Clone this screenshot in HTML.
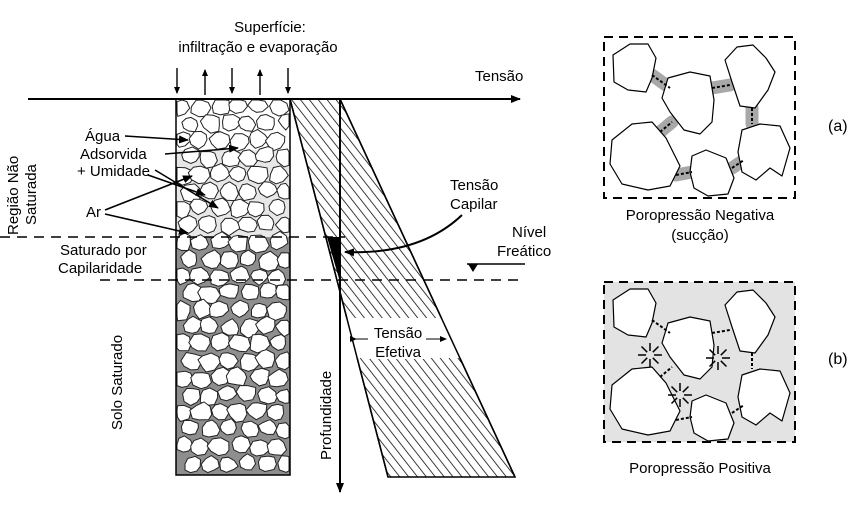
<!DOCTYPE html>
<html><head><meta charset="utf-8">
<style>
html,body{margin:0;padding:0;background:#fff;}
svg{display:block;font-family:"Liberation Sans",Arial,sans-serif;}
</style></head>
<body>
<svg id="fig" width="850" height="507" viewBox="0 0 850 507">
<defs>
<pattern id="hatch" width="7" height="7" patternUnits="userSpaceOnUse" patternTransform="rotate(-38)">
<line x1="0" y1="0" x2="0" y2="7" stroke="#000" stroke-width="1.5"/>
</pattern>
<marker id="ah" markerWidth="10" markerHeight="8" refX="9" refY="4" orient="auto" markerUnits="userSpaceOnUse">
<path d="M0,0 L10,4 L0,8 z" fill="#000"/>
</marker>
<marker id="ahs" markerWidth="7" markerHeight="6" refX="6" refY="3" orient="auto" markerUnits="userSpaceOnUse">
<path d="M0,0 L7,3 L0,6 z" fill="#000"/>
</marker>
</defs>

<text x="270" y="32" font-size="15" text-anchor="middle">Superfície:</text>
<text x="258" y="52" font-size="15" text-anchor="middle">infiltração e evaporação</text>

<g id="column">
<rect x="176" y="99" width="114" height="376" fill="#fff"/>
<rect x="176" y="237" width="114" height="238" fill="#8e8e8e"/>
<rect x="176" y="150" width="114" height="87" fill="#cfcfcf" opacity="0.5"/>
<g id="pebbles"></g>
<rect x="176" y="99" width="114" height="376" fill="none" stroke="#000" stroke-width="1.5"/>
</g>

<polygon points="290,99 340,99 515,477 388,477" fill="url(#hatch)" stroke="#000" stroke-width="1.5"/>
<polygon points="299,318 474,318 492,358 309,358" fill="#fff"/>
<line x1="290" y1="99" x2="388" y2="477" stroke="#000" stroke-width="1.5"/>
<line x1="340" y1="99" x2="515" y2="477" stroke="#000" stroke-width="1.5"/>
<polygon points="327,237 340,237 340,282" fill="#000"/>
<line x1="356" y1="339" x2="446" y2="339" stroke="#000" stroke-width="1" marker-start="url(#ahs)" marker-end="url(#ahs)"/>
<rect x="368" y="325" width="58" height="34" fill="#fff"/>
<text x="398" y="338" font-size="15" text-anchor="middle">Tensão</text>
<text x="398" y="357" font-size="15" text-anchor="middle">Efetiva</text>

<line x1="28" y1="99" x2="520" y2="99" stroke="#000" stroke-width="2" marker-end="url(#ah)"/>
<text x="475" y="81" font-size="15">Tensão</text>
<line x1="340" y1="99" x2="340" y2="492" stroke="#000" stroke-width="2" marker-end="url(#ah)"/>
<text transform="translate(331,460) rotate(-90)" font-size="15">Profundidade</text>

<line x1="0" y1="237" x2="345" y2="237" stroke="#000" stroke-width="1.6" stroke-dasharray="10,7"/>
<line x1="100" y1="280" x2="520" y2="280" stroke="#000" stroke-width="1.6" stroke-dasharray="10,7"/>

<g stroke="#000" stroke-width="1.4">
<line x1="177" y1="68" x2="177" y2="93" marker-end="url(#ahs)"/>
<line x1="205" y1="95" x2="205" y2="70" marker-end="url(#ahs)"/>
<line x1="232" y1="68" x2="232" y2="93" marker-end="url(#ahs)"/>
<line x1="260" y1="95" x2="260" y2="70" marker-end="url(#ahs)"/>
<line x1="288" y1="68" x2="288" y2="93" marker-end="url(#ahs)"/>
</g>

<text transform="translate(18,235) rotate(-90)" font-size="15">Região Não</text>
<text transform="translate(36,225) rotate(-90)" font-size="15">Saturada</text>
<text x="85" y="141" font-size="15">Água</text>
<text x="80" y="159" font-size="15">Adsorvida</text>
<text x="77" y="176" font-size="15">+ Umidade</text>
<text x="86" y="217" font-size="15">Ar</text>
<g stroke="#000" stroke-width="1.6" fill="none">
<line x1="125" y1="136" x2="188" y2="140" marker-end="url(#ah)"/>
<line x1="165" y1="154" x2="238" y2="148" marker-end="url(#ah)"/>
<line x1="155" y1="170" x2="218" y2="208" marker-end="url(#ah)"/>
<line x1="148" y1="175" x2="205" y2="195" marker-end="url(#ah)"/>
<line x1="105" y1="210" x2="192" y2="176" marker-end="url(#ah)"/>
<line x1="105" y1="214" x2="188" y2="233" marker-end="url(#ah)"/>
</g>
<text x="60" y="255" font-size="15">Saturado por</text>
<text x="58" y="273" font-size="15">Capilaridade</text>
<text transform="translate(122,430) rotate(-90)" font-size="15">Solo Saturado</text>

<text x="450" y="190" font-size="15">Tensão</text>
<text x="450" y="209" font-size="15">Capilar</text>
<path d="M462,215 Q420,255 345,252" stroke="#000" stroke-width="2" fill="none" marker-end="url(#ah)"/>

<text x="512" y="237" font-size="15">Nível</text>
<text x="497" y="256" font-size="15">Freático</text>
<line x1="467" y1="264" x2="525" y2="264" stroke="#000" stroke-width="1.6"/>
<polygon points="468,264 478,264 473,272" fill="#000"/>

<g id="panelA">
<rect x="604" y="37" width="191" height="161" fill="#fff" stroke="#000" stroke-width="2" stroke-dasharray="9,6"/>
</g>
<g id="panelB">
<rect x="604" y="282" width="191" height="160" fill="#e3e3e3" stroke="#000" stroke-width="2" stroke-dasharray="9,6"/>
</g>
<text x="700" y="220" font-size="15" text-anchor="middle">Poropressão Negativa</text>
<text x="700" y="240" font-size="15" text-anchor="middle">(sucção)</text>
<text x="700" y="473" font-size="15" text-anchor="middle">Poropressão Positiva</text>
<text x="828" y="131" font-size="16">(a)</text>
<text x="828" y="364" font-size="16">(b)</text>
</svg>
<script>
var NS="http://www.w3.org/2000/svg";
function mk(tag,attrs,parent){var e=document.createElementNS(NS,tag);for(var k in attrs)e.setAttribute(k,attrs[k]);parent.appendChild(e);return e;}
var seed=7;function rnd(){seed=(seed*16807)%2147483647;return (seed-1)/2147483646;}
var pg=document.getElementById('pebbles');
for(var y=106;y<474;y+=17){
  for(var x=182+(Math.floor(y/17)%2)*9;x<292;x+=19){
    var cx=x+rnd()*4-2,cy=y+rnd()*4-2,r=9+rnd()*2,pts=[];
    for(var i=0;i<8;i++){var a=i/8*Math.PI*2+rnd()*0.3,rr=r*(0.8+rnd()*0.3);
      pts.push(Math.min(289,Math.max(177,cx+Math.cos(a)*rr)).toFixed(1)+','+Math.min(474,Math.max(100,cy+Math.sin(a)*rr*0.9)).toFixed(1));}
    var p=mk('polygon',{points:pts.join(' '),fill:'#fff',stroke:'#222','stroke-width':'1'},pg);
    
    
  }
}
var grains=[
"613,55 630,44 648,44 656,58 652,78 646,92 628,90 614,82",
"668,78 690,72 710,76 714,100 712,122 700,134 684,130 670,112 662,98",
"725,60 737,47 753,45 766,58 775,72 768,90 755,108 740,106 732,82",
"612,140 632,124 652,122 666,138 680,166 670,186 648,190 622,184 610,164",
"692,156 706,150 726,158 734,178 728,194 708,196 694,188 690,172",
"742,130 760,124 780,126 790,148 782,176 770,168 756,180 742,172 738,152"];
var bridges=[[652,75,670,88],[712,88,730,85],[752,108,752,124],[660,132,672,122],[676,175,692,172],[732,168,744,160]];
function drawPanel(id,dy,neg){
  var g=document.getElementById(id);
  if(neg){bridges.forEach(function(b){
    var q=mk('line',{x1:b[0],y1:b[1]+dy,x2:b[2],y2:b[3]+dy,stroke:'#a8a8a8','stroke-width':'13','stroke-linecap':'round'},g);
    
    
  });}
  grains.forEach(function(s){
    var pts=s.split(' ').map(function(p){var c=p.split(',');return c[0]+','+(+c[1]+dy);}).join(' ');
    var e=mk('polygon',{points:pts,fill:'#fff',stroke:'#000','stroke-width':'1.2','stroke-linejoin':'round'},g);
    
    
  });
  bridges.forEach(function(b){
    var l=mk('line',{x1:b[0],y1:b[1]+dy,x2:b[2],y2:b[3]+dy,stroke:'#000','stroke-width':'2','stroke-dasharray':'3,2'},g);
    
    
  });
  if(!neg){[[650,110],[718,113],[680,150]].forEach(function(c){
    for(var i=0;i<8;i++){var a=i*Math.PI/4;
      var s=mk('line',{x1:(c[0]+Math.cos(a)*4).toFixed(1),y1:(c[1]+dy+Math.sin(a)*4).toFixed(1),x2:(c[0]+Math.cos(a)*12).toFixed(1),y2:(c[1]+dy+Math.sin(a)*12).toFixed(1),stroke:'#000','stroke-width':'1.5'},g);
      
      
    }});}
}
drawPanel('panelA',0,true);
drawPanel('panelB',245,false);
</script>
</body></html>
